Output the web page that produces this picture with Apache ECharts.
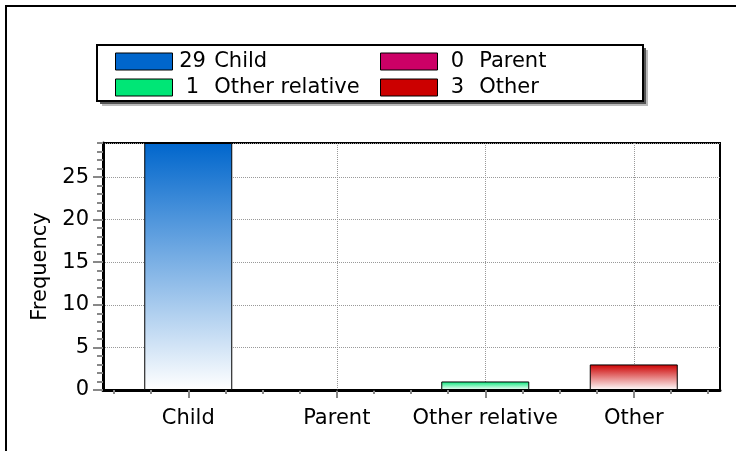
<!DOCTYPE html>
<html><head><meta charset="utf-8">
<script src="https://cdn.jsdelivr.net/npm/echarts@6/dist/echarts.min.js"></script>
<style>html,body{margin:0;padding:0;background:#fff}#c{width:736px;height:451px}</style>
</head><body><div id="c"></div>
<script>
const categories = ['Child', 'Parent', 'Other relative', 'Other'];
const counts = [29, 0, 1, 3];
const colors = ['#0066cc', '#cc0066', '#00e676', '#cc0000'];
const yMax = 29;
const yInterval = 5;

const FONT = 'DejaVu Sans';
const chart = echarts.init(document.getElementById('c'), null, {renderer: 'canvas'});

function grad(c) {
  return new echarts.graphic.LinearGradient(0, 0, 0, 1, [
    {offset: 0, color: c}, {offset: 1, color: '#ffffff'}
  ]);
}

const barSeries = categories.map((c, i) => ({
  name: c, type: 'bar', xAxisIndex: 1, yAxisIndex: 2, stack: 'all', barWidth: 88,
  data: categories.map((_, j) => j === i ? counts[i] : '-'),
  itemStyle: {color: grad(colors[i]), borderColor: '#000', borderWidth: 1},
  z: 3
}));

const gridLineSeries = {
  type: 'line', xAxisIndex: 1, yAxisIndex: 2, data: [], silent: true, z: 1,
  markLine: {
    silent: true, symbol: 'none', z: 1, animation: false,
    label: {show: false},
    lineStyle: {color: '#999', type: 'dotted', width: 1},
    data: categories.map(c => ({xAxis: c}))
  }
};

function legendFor(idx, left) {
  return {
    left: left, top: 46, orient: 'vertical', icon: 'rect',
    itemWidth: 57, itemHeight: 17, itemGap: 5, selectedMode: false, z: 10,
    itemStyle: {borderColor: '#000', borderWidth: 1},
    data: idx.map(i => ({name: categories[i], itemStyle: {color: colors[i], borderColor: '#000', borderWidth: 1}})),
    formatter: name => '{n|' + counts[categories.indexOf(name)] + '} ' + name,
    textStyle: {
      fontSize: 21, fontFamily: FONT, color: '#000', lineHeight: 17,
      rich: {n: {width: 30, align: 'right', fontSize: 21, fontFamily: FONT, color: '#000', lineHeight: 17}}
    }
  };
}

chart.setOption({
  animation: false,
  backgroundColor: '#fff',
  textStyle: {fontFamily: FONT},
  graphic: [
    {type: 'polyline', shape: {points: [[6, 451], [6, 6], [736, 6]]}, style: {stroke: '#000', lineWidth: 2, fill: null}, z: 0},
    {type: 'rect', shape: {x: 102, y: 50, width: 546, height: 56}, style: {fill: '#bbb'}, z: 0},
    {type: 'rect', shape: {x: 100, y: 48, width: 546, height: 56}, style: {fill: '#555'}, z: 0},
    {type: 'rect', shape: {x: 97, y: 45, width: 546, height: 56}, style: {fill: '#fff', stroke: '#000', lineWidth: 2}, z: 1}
  ],
  legend: [legendFor([0, 2], 110), legendFor([1, 3], 375)],
  grid: [
    {left: 103, top: 143, width: 617, height: 247, show: true, borderColor: '#000', borderWidth: 2, backgroundColor: 'transparent'},
    {left: 114, top: 143, width: 594, height: 247}
  ],
  xAxis: [
    {gridIndex: 0, type: 'value', min: 0, max: 1, position: 'bottom',
      axisLine: {show: true, onZero: false, lineStyle: {color: '#000', width: 3}},
      axisTick: {show: false}, axisLabel: {show: false}, splitLine: {show: false}},
    {gridIndex: 1, type: 'category', data: categories, position: 'bottom',
      axisLine: {show: false},
      axisTick: {show: true, alignWithLabel: true, length: 8, lineStyle: {color: '#888', width: 2}},
      axisLabel: {interval: 0, margin: 18, fontSize: 21, fontFamily: FONT, color: '#000'},
      splitLine: {show: false}},
    {gridIndex: 1, type: 'value', min: -0.5, max: 3.5, interval: 0.25, position: 'bottom',
      axisLine: {show: false, onZero: false},
      axisTick: {show: true, length: 4, lineStyle: {color: '#888', width: 2}},
      axisLabel: {show: false}, splitLine: {show: false}}
  ],
  yAxis: [
    {gridIndex: 0, type: 'value', min: 0, max: yMax, interval: yInterval, position: 'left',
      name: 'Frequency', nameLocation: 'middle', nameGap: 52,
      nameTextStyle: {fontSize: 21, fontFamily: FONT, color: '#000'},
      axisLine: {show: true, lineStyle: {color: '#000', width: 3}},
      axisTick: {show: true, length: 10, lineStyle: {color: '#888', width: 2}},
      axisLabel: {margin: 14, fontSize: 21, fontFamily: FONT, color: '#000', showMaxLabel: false},
      splitLine: {show: true, lineStyle: {color: '#999', type: 'dotted', width: 1}}},
    {gridIndex: 0, type: 'value', min: 0, max: yMax, interval: 1, position: 'left',
      axisLine: {show: false, onZero: false},
      axisTick: {show: true, length: 6, lineStyle: {color: '#888', width: 2}},
      axisLabel: {show: false}, splitLine: {show: false}},
    {gridIndex: 1, type: 'value', min: 0, max: yMax, show: false}
  ],
  series: [gridLineSeries].concat(barSeries)
});
</script>
</body></html>
